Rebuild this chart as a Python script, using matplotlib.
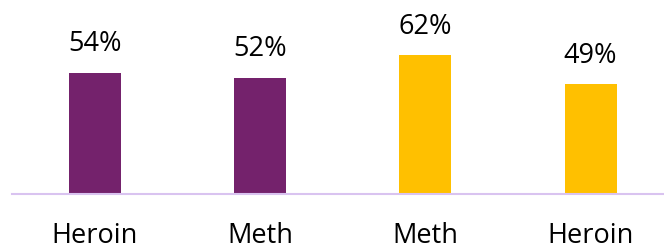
import matplotlib.pyplot as plt

categories = ["Heroin", "Meth", "Meth", "Heroin"]
values = [54, 52, 62, 49]
colors = ["#74226C", "#74226C", "#FFC000", "#FFC000"]

plt.rcParams['font.family'] = ['Open Sans', 'DejaVu Sans']

fig = plt.figure(figsize=(6.64, 2.49), dpi=100)
# axes: left edge at 12px, baseline at y=194px
ax = fig.add_axes([12 / 664, (249 - 194) / 249, 652 / 664, 194 / 249])

x = range(len(categories))
bars = ax.bar(x, values, width=52 / 165.3, color=colors)

for xi, v in zip(x, values):
    ax.text(xi, v + 6.5, f"{v}%", ha="center", va="bottom", fontsize=19.5, color="black")

ax.set_xlim(-0.5, 652 / 165.3 - 0.5)
ax.set_ylim(0, 194 / 2.24)

for s in ["top", "right", "left"]:
    ax.spines[s].set_visible(False)
ax.spines["bottom"].set_color("#D9C3F0")
ax.spines["bottom"].set_linewidth(1.5)

ax.set_yticks([])
ax.set_xticks(list(x))
ax.set_xticklabels(categories, fontsize=19.5)
ax.tick_params(axis="x", length=0, pad=20)

fig.savefig("out.png", dpi=100)
